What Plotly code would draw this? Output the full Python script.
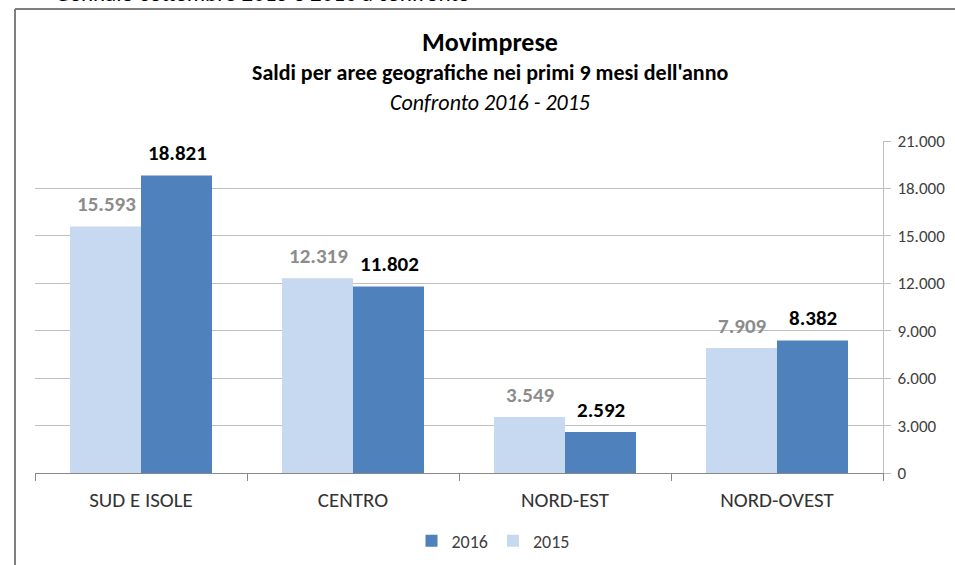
import plotly.graph_objects as go

categories = ["SUD E ISOLE", "CENTRO", "NORD-EST", "NORD-OVEST"]
values_2015 = [15593, 12319, 3549, 7909]
values_2016 = [18821, 11802, 2592, 8382]
y_ticks = [0, 3000, 6000, 9000, 12000, 15000, 18000, 21000]

FONT = "Carlito, Lato, sans-serif"
NARROW = "Liberation Sans Narrow, Arial Narrow, Carlito, sans-serif"
C2015 = "#C6D9F1"
C2016 = "#4F81BD"

fig = go.Figure()
fig.add_trace(go.Bar(x=categories, y=values_2015, name="2015", marker_color=C2015,
                     marker_line_width=0, hoverinfo="skip"))
fig.add_trace(go.Bar(x=categories, y=values_2016, name="2016", marker_color=C2016,
                     marker_line_width=0, hoverinfo="skip"))

annotations = []
for c, v in zip(categories, values_2015):
    annotations.append(dict(x=c, y=v, xref="x", yref="y", text=f"{v:,}".replace(",", "."),
                            showarrow=False, xshift=-35, yshift=7, yanchor="bottom",
                            font=dict(family=FONT, size=21, color="#8C8C8C", weight="bold")))
for c, v in zip(categories, values_2016):
    annotations.append(dict(x=c, y=v, xref="x", yref="y", text=f"{v:,}".replace(",", "."),
                            showarrow=False, xshift=36, yshift=7, yanchor="bottom",
                            font=dict(family=FONT, size=21, color="#000000", weight="bold")))

# titles (pixel positions converted to paper coords: plot area x 35..883, y 141..473)
def px_x(px):
    return (px - 35) / 848
def px_y(py):
    return (473 - py) / 332

annotations += [
    dict(x=px_x(490), y=px_y(42), xref="paper", yref="paper", text="<b>Movimprese</b>",
         showarrow=False, xanchor="center", yanchor="middle",
         font=dict(family=FONT, size=26, color="#000000")),
    dict(x=px_x(490), y=px_y(73), xref="paper", yref="paper",
         text="<b>Saldi per aree geografiche nei primi 9 mesi dell'anno</b>",
         showarrow=False, xanchor="center", yanchor="middle",
         font=dict(family=FONT, size=22, color="#000000")),
    dict(x=px_x(490), y=px_y(103), xref="paper", yref="paper",
         text="<i>Confronto 2016 - 2015</i>",
         showarrow=False, xanchor="center", yanchor="middle",
         font=dict(family=FONT, size=22, color="#000000")),
    dict(x=px_x(262), y=px_y(-7), xref="paper", yref="paper",
         text="Gennaio-settembre 2015 e 2016 a confronto",
         showarrow=False, xanchor="center", yanchor="middle",
         font=dict(family=FONT, size=23, color="#000000")),
]

shapes = [
    dict(type="line", xref="paper", yref="paper", x0=px_x(15), x1=px_x(970),
         y0=px_y(9), y1=px_y(9), line=dict(color="#7F7F7F", width=2)),
    dict(type="line", xref="paper", yref="paper", x0=px_x(15), x1=px_x(15),
         y0=px_y(9), y1=px_y(580), line=dict(color="#7F7F7F", width=2)),
]

fig.update_layout(
    width=955, height=565,
    margin=dict(l=35, r=72, t=141, b=92, autoexpand=False),
    paper_bgcolor="white", plot_bgcolor="white",
    separators=",.",
    barmode="group", bargap=0.33, bargroupgap=0,
    showlegend=True,
    legend=dict(orientation="h", x=px_x(493), y=px_y(541), xanchor="center", yanchor="middle",
                traceorder="reversed", font=dict(family=NARROW, size=18, color="#404040"),
                itemwidth=30),
    annotations=annotations,
    shapes=shapes,
    font=dict(family=FONT),
)
fig.update_xaxes(showline=True, linecolor="#888888", linewidth=1, automargin=False,
                 ticks="outside", tickson="boundaries", ticklen=7, tickcolor="#888888",
                 tickfont=dict(family=NARROW, size=21, color="#333333"),
                 ticklabelstandoff=8, showgrid=False)
fig.update_yaxes(side="right", range=[0, 21000], tickvals=y_ticks, tickformat=",d",
                 showline=True, linecolor="#BFBFBF", linewidth=1, automargin=False,
                 ticks="outside", ticklen=7, tickcolor="#BFBFBF",
                 showgrid=True, gridcolor="#BFBFBF", gridwidth=1, zeroline=False,
                 tickfont=dict(family=FONT, size=17, color="#404040"), ticklabelstandoff=3)

fig.write_html("out.html")
